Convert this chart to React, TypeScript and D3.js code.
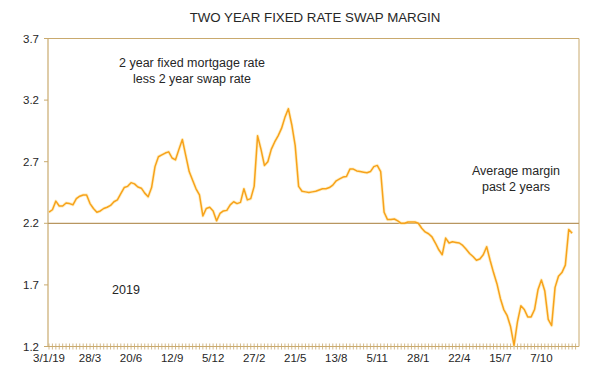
import React from "react";
import * as d3 from "d3";

const title = "TWO YEAR FIXED RATE SWAP MARGIN";
const startDate = new Date(2019, 0, 3);
const margin: number[] = [
  2.29, 2.31, 2.38, 2.34, 2.34, 2.365, 2.36, 2.35, 2.40, 2.42,
  2.43, 2.43, 2.36, 2.32, 2.29, 2.30, 2.32, 2.33, 2.345, 2.375,
  2.39, 2.44, 2.49, 2.50, 2.53, 2.52, 2.495, 2.485, 2.445, 2.415,
  2.49, 2.66, 2.74, 2.755, 2.77, 2.78, 2.73, 2.715, 2.80, 2.88,
  2.75, 2.62, 2.55, 2.48, 2.43, 2.26, 2.32, 2.33, 2.30, 2.22,
  2.28, 2.30, 2.305, 2.35, 2.375, 2.36, 2.37, 2.48, 2.39, 2.40,
  2.50, 2.91, 2.80, 2.67, 2.70, 2.80, 2.86, 2.91, 2.97, 3.06,
  3.13, 3.00, 2.83, 2.50, 2.46, 2.455, 2.45, 2.455, 2.46, 2.47,
  2.48, 2.48, 2.49, 2.51, 2.545, 2.56, 2.575, 2.58, 2.64, 2.64,
  2.625, 2.62, 2.615, 2.61, 2.62, 2.66, 2.67, 2.62, 2.29, 2.23,
  2.23, 2.235, 2.22, 2.20, 2.20, 2.21, 2.21, 2.21, 2.20, 2.16,
  2.13, 2.115, 2.09, 2.04, 1.985, 1.945, 2.08, 2.04, 2.05, 2.045,
  2.04, 2.02, 1.99, 1.955, 1.93, 1.90, 1.91, 1.945, 2.01, 1.90,
  1.80, 1.71, 1.59, 1.50, 1.45, 1.36, 1.21, 1.40, 1.53, 1.50,
  1.44, 1.44, 1.50, 1.66, 1.74, 1.65, 1.42, 1.37, 1.68, 1.77,
  1.80, 1.86, 2.15, 2.12,
];
const averageMargin = 2.2;
const yTicks: number[] = [1.2, 1.7, 2.2, 2.7, 3.2, 3.7];
const xTickLabels: string[] = [
  "3/1/19", "28/3", "20/6", "12/9", "5/12", "27/2", "21/5",
  "13/8", "5/11", "28/1", "22/4", "15/7", "7/10",
];
const noteTop: string[] = ["2 year fixed mortgage rate", "less 2 year swap rate"];
const noteRight: string[] = ["Average margin", "past 2 years"];
const noteYear = "2019";

const W = 600;
const H = 369;
const axisX = 48;
const left = 49;
const right = 579;
const top = 38.5;
const bottom = 346.5;
const frameColor = "#c9aa6e";
const avgColor = "#b89660";
const lineColor = "#f7a21b";
const textColor = "#262626";
const font = "'Liberation Sans', Arial, sans-serif";

export default function App() {
  const endDate = d3.timeDay.offset(startDate, 1085);
  const x = d3.scaleTime().domain([startDate, endDate]).range([left, right]);
  const y = d3.scaleLinear().domain([1.2, 3.7]).range([bottom, top]);
  const data = margin.map((v, i) => ({ date: d3.timeWeek.offset(startDate, i), v }));
  const line = d3
    .line<{ date: Date; v: number }>()
    .x((d) => x(d.date))
    .y((d) => y(d.v));
  const path = line(data) || "";
  const weekTicks = d3.range(0, 155).map((i) => d3.timeWeek.offset(startDate, i));
  const labelTicks = xTickLabels.map((lab, k) => ({
    lab,
    date: d3.timeWeek.offset(startDate, k * 12),
  }));
  const fmt = d3.format(".1f");

  return (
    <svg
      width={W}
      height={H}
      style={{ position: "absolute", left: 0, top: 0, background: "#fff" }}
      fontFamily={font}
    >
      <rect x={0} y={0} width={W} height={H} fill="#fff" />
      <text x={315} y={22} textAnchor="middle" fontSize={13.3} fill={textColor}>
        {title}
      </text>
      {/* frame */}
      <line x1={axisX} x2={right} y1={top} y2={top} stroke={frameColor} strokeWidth={1} />
      <line x1={right} x2={right} y1={top} y2={bottom} stroke={frameColor} strokeWidth={1} />
      <line x1={axisX} x2={axisX} y1={top} y2={bottom} stroke={frameColor} strokeWidth={1.2} />
      <line x1={axisX} x2={right} y1={bottom} y2={bottom} stroke={frameColor} strokeWidth={1.2} />
      {/* y ticks */}
      {yTicks.map((t) => (
        <g key={t}>
          <line x1={axisX - 4} x2={axisX} y1={y(t)} y2={y(t)} stroke={frameColor} />
          <text x={39} y={y(t) + 4} textAnchor="end" fontSize={11.5} fill={textColor}>
            {fmt(t)}
          </text>
        </g>
      ))}
      {/* x weekly ticks */}
      {weekTicks.map((d, i) => (
        <line
          key={i}
          x1={x(d)}
          x2={x(d)}
          y1={bottom - 3}
          y2={bottom + 3}
          stroke={frameColor}
          strokeWidth={0.8}
        />
      ))}
      {labelTicks.map((t) => (
        <text
          key={t.lab}
          x={x(t.date)}
          y={362}
          textAnchor="middle"
          fontSize={11.5}
          fill={textColor}
        >
          {t.lab}
        </text>
      ))}
      {/* average line */}
      <line
        x1={axisX}
        x2={right}
        y1={y(averageMargin)}
        y2={y(averageMargin)}
        stroke={avgColor}
        strokeWidth={1.2}
      />
      {/* series */}
      <path d={path} fill="none" stroke="#ffe39a" strokeWidth={3.2} strokeOpacity={0.55} strokeLinejoin="round" />
      <path d={path} fill="none" stroke={lineColor} strokeWidth={1.5} strokeLinejoin="round" />
      {/* notes */}
      {noteTop.map((s, i) => (
        <text key={s} x={192} y={67 + i * 16} textAnchor="middle" fontSize={12.5} fill={textColor}>
          {s}
        </text>
      ))}
      {noteRight.map((s, i) => (
        <text key={s} x={516} y={175 + i * 16} textAnchor="middle" fontSize={12.5} fill={textColor}>
          {s}
        </text>
      ))}
      <text x={126} y={294} textAnchor="middle" fontSize={12.5} fill={textColor}>
        {noteYear}
      </text>
    </svg>
  );
}
